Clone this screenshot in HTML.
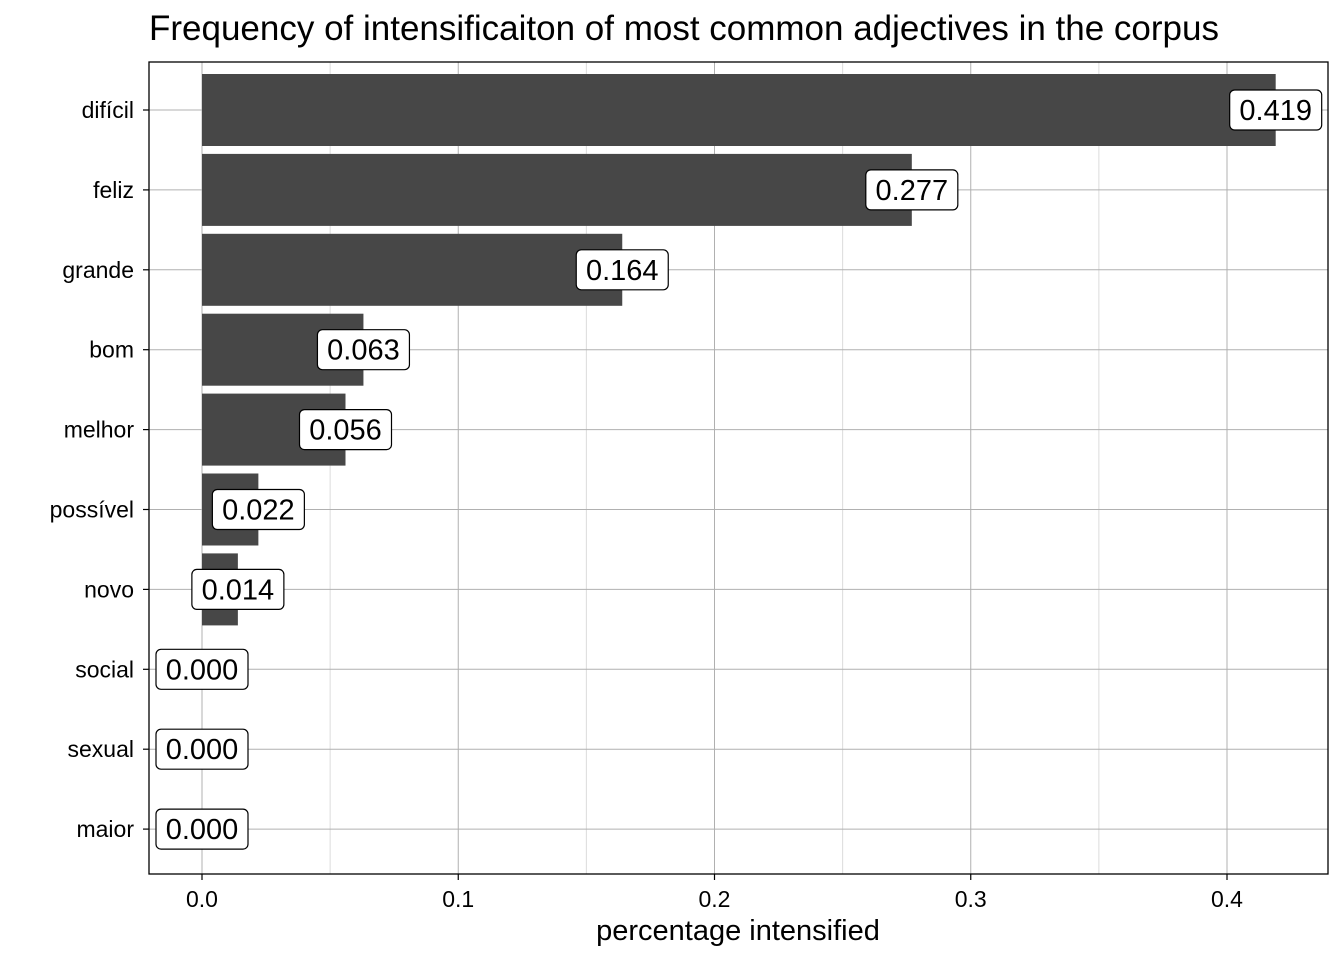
<!DOCTYPE html>
<html><head><meta charset="utf-8"><style>
body{margin:0;background:#fff;font-family:"Liberation Sans",Arial,sans-serif}
</style></head><body>
<svg id="chart" width="1344" height="960" xmlns="http://www.w3.org/2000/svg" font-family="Liberation Sans, Arial, sans-serif">
<text x="149" y="40" font-size="35" fill="#000">Frequency of intensificaiton of most common adjectives in the corpus</text>
<text x="738" y="940" font-size="29" text-anchor="middle" fill="#000">percentage intensified</text>
<g id="grid"></g><g id="bars"></g><g id="labels"></g><g id="axes"></g>
</svg>
<script>
const categories=["difícil","feliz","grande","bom","melhor","possível","novo","social","sexual","maior"];
const values=[0.419,0.277,0.164,0.063,0.056,0.022,0.014,0.000,0.000,0.000];
const tickVals=[0,0.1,0.2,0.3,0.4];
const tickLabels=["0.0","0.1","0.2","0.3","0.4"];
const minorVals=[0.05,0.15,0.25,0.35];
const NS="http://www.w3.org/2000/svg";
const L=149,R=1328,T=62,B=874;
const x=v=>202+v*2562.5;
const y=i=>110+i*79.9;
function mk(tag,attrs,parent,txt){const e=document.createElementNS(NS,tag);for(const k in attrs)e.setAttribute(k,attrs[k]);if(txt!==undefined)e.textContent=txt;document.getElementById(parent).appendChild(e);return e;}
minorVals.forEach(v=>{const e=mk('line',{x1:x(v),x2:x(v),y1:T,y2:B,stroke:'#dcdcdc','stroke-width':1},'grid');

});
tickVals.forEach(v=>{const e=mk('line',{x1:x(v),x2:x(v),y1:T,y2:B,stroke:'#b0b0b0','stroke-width':1},'grid');

});
categories.forEach((c,i)=>{const e=mk('line',{x1:L,x2:R,y1:y(i),y2:y(i),stroke:'#b0b0b0','stroke-width':1},'grid');

});
categories.forEach((c,i)=>{
const b=mk('rect',{x:x(0),y:y(i)-36,width:Math.max(0,x(values[i])-x(0)),height:72,fill:'#474747'},'bars');


const cx=x(values[i]);
const r=mk('rect',{x:cx-46,y:y(i)-20,width:92,height:40,rx:5,fill:'#fff',stroke:'#000','stroke-width':1.2},'labels');


const t=mk('text',{x:cx,y:y(i)+10,'font-size':29,'text-anchor':'middle',fill:'#000'},'labels',values[i].toFixed(3));


const yl=mk('text',{x:L-15,y:y(i)+8,'font-size':23,'text-anchor':'end',fill:'#000'},'axes',c);


const yt=mk('line',{x1:L-6,x2:L,y1:y(i),y2:y(i),stroke:'#000','stroke-width':1.2},'axes');


});
tickVals.forEach((v,i)=>{
const xt=mk('line',{x1:x(v),x2:x(v),y1:B,y2:B+6,stroke:'#000','stroke-width':1.2},'axes');


const xl=mk('text',{x:x(v),y:B+33,'font-size':23,'text-anchor':'middle',fill:'#000'},'axes',tickLabels[i]);


});
const p=mk('rect',{x:L,y:T,width:R-L,height:B-T,fill:'none',stroke:'#000','stroke-width':1.3},'axes');


</script>
</body></html>
